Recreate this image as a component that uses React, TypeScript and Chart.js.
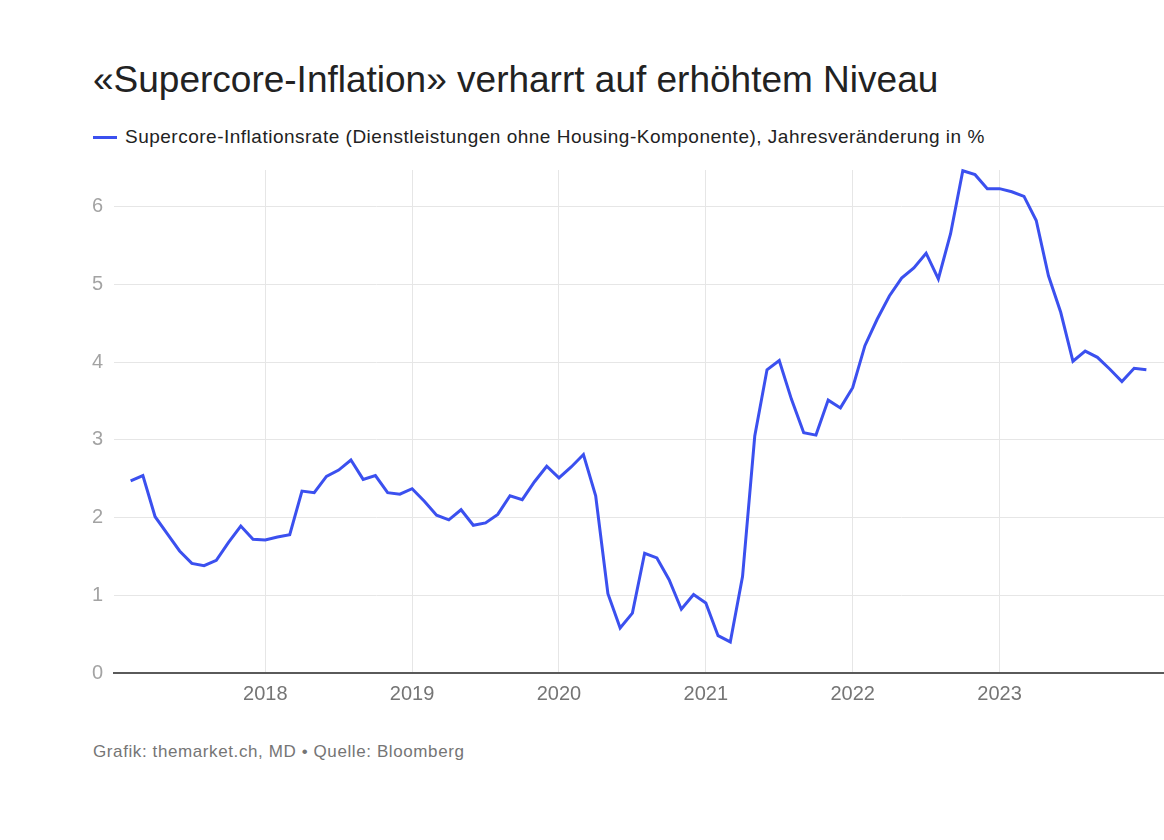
import React, { useEffect, useRef } from "react";
import { Chart, registerables } from "chart.js";

Chart.register(...registerables);

const TITLE = "«Supercore-Inflation» verharrt auf erhöhtem Niveau";
const SERIES_LABEL =
  "Supercore-Inflationsrate (Dienstleistungen ohne Housing-Komponente), Jahresveränderung in %";
const SOURCE = "Grafik: themarket.ch, MD • Quelle: Bloomberg";

const months = [
  "2017-02", "2017-03", "2017-04", "2017-05", "2017-06", "2017-07", "2017-08", "2017-09", "2017-10", "2017-11", "2017-12",
  "2018-01", "2018-02", "2018-03", "2018-04", "2018-05", "2018-06", "2018-07", "2018-08", "2018-09", "2018-10", "2018-11", "2018-12",
  "2019-01", "2019-02", "2019-03", "2019-04", "2019-05", "2019-06", "2019-07", "2019-08", "2019-09", "2019-10", "2019-11", "2019-12",
  "2020-01", "2020-02", "2020-03", "2020-04", "2020-05", "2020-06", "2020-07", "2020-08", "2020-09", "2020-10", "2020-11", "2020-12",
  "2021-01", "2021-02", "2021-03", "2021-04", "2021-05", "2021-06", "2021-07", "2021-08", "2021-09", "2021-10", "2021-11", "2021-12",
  "2022-01", "2022-02", "2022-03", "2022-04", "2022-05", "2022-06", "2022-07", "2022-08", "2022-09", "2022-10", "2022-11", "2022-12",
  "2023-01", "2023-02", "2023-03", "2023-04", "2023-05", "2023-06", "2023-07", "2023-08", "2023-09", "2023-10", "2023-11", "2023-12",
  "2024-01",
];

const supercore = [
  2.47, 2.54, 2.01, 1.79, 1.57, 1.41, 1.38, 1.45, 1.68, 1.89, 1.72,
  1.71, 1.75, 1.78, 2.34, 2.32, 2.53, 2.61, 2.74, 2.49, 2.54, 2.32, 2.30,
  2.37, 2.21, 2.03, 1.97, 2.10, 1.90, 1.93, 2.04, 2.28, 2.23, 2.46, 2.66,
  2.51, 2.65, 2.81, 2.28, 1.02, 0.58, 0.77, 1.54, 1.48, 1.20, 0.82, 1.01,
  0.90, 0.48, 0.40, 1.24, 3.05, 3.90, 4.02, 3.52, 3.09, 3.06, 3.51, 3.41,
  3.67, 4.21, 4.55, 4.85, 5.08, 5.21, 5.40, 5.07, 5.65, 6.46, 6.41, 6.23,
  6.23, 6.19, 6.13, 5.82, 5.11, 4.64, 4.01, 4.14, 4.06, 3.91, 3.75, 3.92,
  3.90,
];

const yearTicks = [2018, 2019, 2020, 2021, 2022, 2023];
const valueTicks = [0, 1, 2, 3, 4, 5, 6];

const LINE_COLOR = "#3b50ef";
const FONT = "'Liberation Sans', Arial, sans-serif";

export default function App() {
  const canvasRef = useRef<HTMLCanvasElement | null>(null);

  useEffect(() => {
    if (!canvasRef.current) return;
    const points = months.map((m, i) => {
      const [y, mo] = m.split("-").map(Number);
      return { x: y + (mo - 1) / 12, y: supercore[i] };
    });
    const chart = new Chart(canvasRef.current, {
      type: "line",
      data: {
        datasets: [
          {
            label: SERIES_LABEL,
            data: points,
            borderColor: LINE_COLOR,
            backgroundColor: LINE_COLOR,
            borderWidth: 3,
            pointRadius: 0,
            tension: 0,
            clip: false as any,
          },
        ],
      },
      options: {
        animation: false,
        responsive: false,
        layout: { padding: { top: 0, right: 0, left: 0, bottom: 0 } },
        plugins: {
          legend: { display: false },
          tooltip: { enabled: false },
        },
        scales: {
          x: {
            type: "linear",
            min: 2016.97,
            max: 2024.12,
            afterBuildTicks: (scale: any) => {
              scale.ticks = yearTicks.map((v) => ({ value: v }));
            },
            afterFit: (scale: any) => {
              scale.height = 40;
            },
            grid: { color: "#e6e6e6", lineWidth: 1, drawTicks: false },
            border: { display: true, color: "#5a5a5a", width: 2 },
            ticks: {
              color: "#757575",
              font: { family: FONT, size: 20 },
              padding: 9,
              callback: (v: any) => String(v),
              maxRotation: 0,
            },
          },
          y: {
            type: "linear",
            min: 0,
            max: 6.47,
            afterBuildTicks: (scale: any) => {
              scale.ticks = valueTicks.map((v) => ({ value: v }));
            },
            afterFit: (scale: any) => {
              scale.width = 114;
            },
            grid: { color: "#e6e6e6", lineWidth: 1, drawTicks: false },
            border: { display: false },
            ticks: {
              color: "#a3a3a3",
              font: { family: FONT, size: 20 },
              padding: 11,
              callback: (v: any) => String(v),
            },
          },
        },
      },
    });
    return () => chart.destroy();
  }, []);

  return (
    <div
      style={{
        position: "absolute",
        left: 0,
        top: 0,
        width: 1164,
        height: 840,
        background: "#ffffff",
        fontFamily: FONT,
        overflow: "hidden",
      }}
    >
      <div
        style={{
          position: "absolute",
          left: 93,
          top: 59,
          fontSize: 37,
          lineHeight: "42px",
          color: "#222222",
          whiteSpace: "nowrap",
        }}
      >
        {TITLE}
      </div>
      <div
        style={{
          position: "absolute",
          left: 93,
          top: 125,
          height: 24,
          display: "flex",
          alignItems: "center",
          whiteSpace: "nowrap",
        }}
      >
        <span
          style={{
            display: "inline-block",
            width: 24,
            height: 3,
            background: LINE_COLOR,
            marginRight: 8,
          }}
        />
        <span style={{ fontSize: 19, letterSpacing: "0.5px", color: "#222222", lineHeight: "24px" }}>
          {SERIES_LABEL}
        </span>
      </div>
      <canvas
        ref={canvasRef}
        width={1164}
        height={566}
        style={{ position: "absolute", left: 0, top: 147, width: 1164, height: 566 }}
      />
      <div
        style={{
          position: "absolute",
          left: 93,
          top: 741,
          fontSize: 17,
          letterSpacing: "0.6px",
          lineHeight: "22px",
          color: "#757575",
          whiteSpace: "nowrap",
        }}
      >
        {SOURCE}
      </div>
    </div>
  );
}
